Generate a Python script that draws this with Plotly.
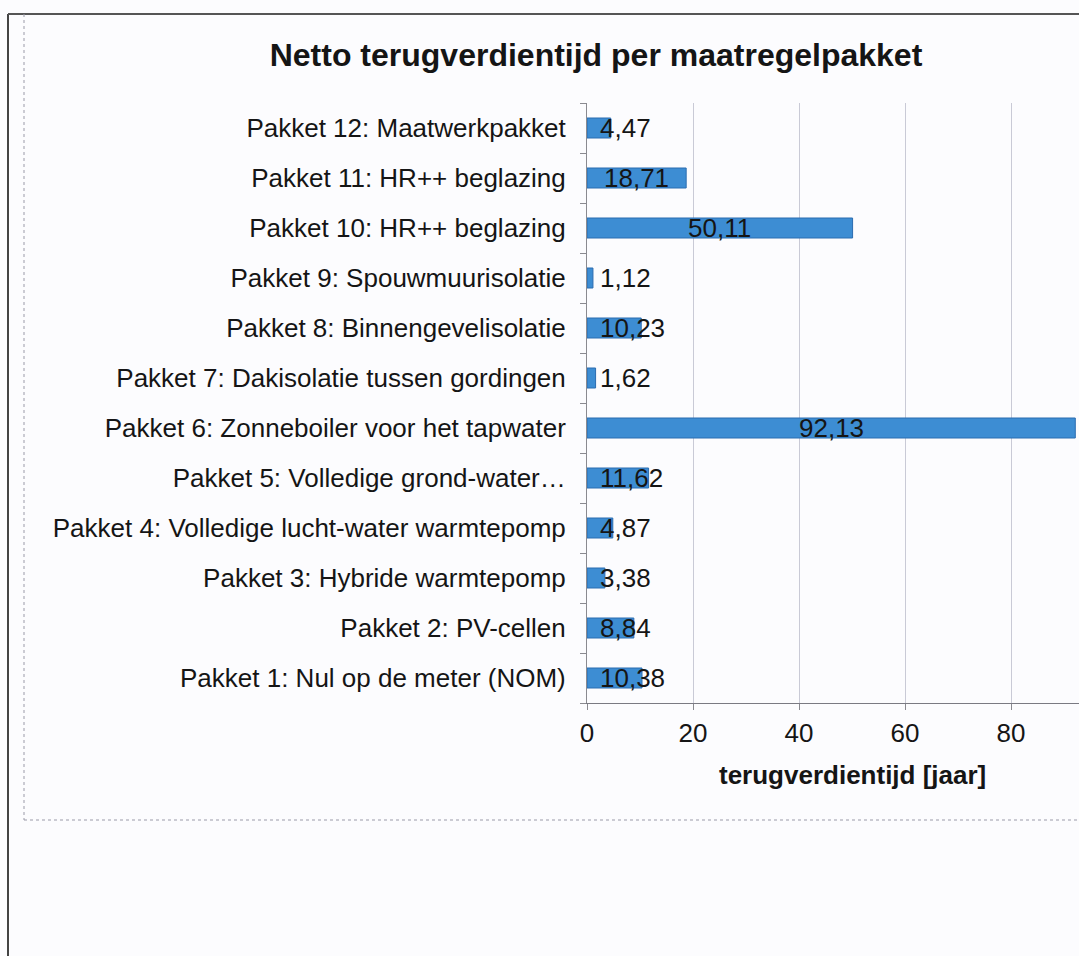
import plotly.graph_objects as go

# ---- data (bottom to top) ----
categories = [
    "Pakket 1: Nul op de meter (NOM)",
    "Pakket 2: PV-cellen",
    "Pakket 3: Hybride warmtepomp",
    "Pakket 4: Volledige lucht-water warmtepomp",
    "Pakket 5: Volledige grond-water…",
    "Pakket 6: Zonneboiler voor het tapwater",
    "Pakket 7: Dakisolatie tussen gordingen",
    "Pakket 8: Binnengevelisolatie",
    "Pakket 9: Spouwmuurisolatie",
    "Pakket 10: HR++ beglazing",
    "Pakket 11: HR++ beglazing",
    "Pakket 12: Maatwerkpakket",
]
values = [10.38, 8.84, 3.38, 4.87, 11.62, 92.13, 1.62, 10.23, 1.12, 50.11, 18.71, 4.47]
x_ticks = [0, 20, 40, 60, 80, 100]
title_text = "Netto terugverdientijd per maatregelpakket"
x_title = "terugverdientijd [jaar]"

# ---- layout geometry ----
W, H = 1079, 956
L, R, T, B = 587, 0, 103, 253
PW, PH = W - L - R, H - T - B
PX_PER_UNIT = 5.3
x_max = PW / PX_PER_UNIT
FONT = "Liberation Sans, Arial, sans-serif"
FS = 26


def px_x(px):
    return (px - L) / PW


def px_y(py):
    return (H - B - py) / PH


def fmt(v):
    return f"{v:.2f}".replace(".", ",")


def text_width_px(s, size):
    w = 0.0
    for ch in s:
        w += 0.278 if ch in ",." else 0.556
    return w * size


fig = go.Figure()
fig.add_trace(go.Bar(
    y=categories, x=values, orientation="h",
    width=0.4,
    marker=dict(color="#3d8dd3", line=dict(color="#2b6cb0", width=1)),
    hoverinfo="skip",
))

annotations = []
min_left = 2.1  # data units from axis where short-bar labels start
for c, v in zip(categories, values):
    s = fmt(v)
    half_w = text_width_px(s, FS) / 2 / PX_PER_UNIT
    if v / 2 - half_w < min_left:
        annotations.append(dict(x=min_left, y=c, xref="x", yref="y", text=s,
                                showarrow=False, xanchor="left", yanchor="middle",
                                font=dict(family=FONT, size=FS, color="#151515")))
    else:
        annotations.append(dict(x=v / 2, y=c, xref="x", yref="y", text=s,
                                showarrow=False, xanchor="center", yanchor="middle",
                                font=dict(family=FONT, size=FS, color="#151515")))

# x-axis title centred on the full (0-100) axis
annotations.append(dict(x=x_ticks[-1] / 2, y=px_y(775), xref="x", yref="paper",
                        text=f"<b>{x_title}</b>", showarrow=False,
                        xanchor="center", yanchor="middle",
                        font=dict(family=FONT, size=FS, color="#151515")))

shapes = [
    # outer page frame (left + top)
    dict(type="line", xref="paper", yref="paper", x0=px_x(8), x1=px_x(8),
         y0=px_y(14), y1=px_y(H + 5), line=dict(color="#444", width=2)),
    dict(type="line", xref="paper", yref="paper", x0=px_x(8), x1=px_x(W + 5),
         y0=px_y(14), y1=px_y(14), line=dict(color="#555", width=2)),
    # chart area frame (dotted)
    dict(type="line", xref="paper", yref="paper", x0=px_x(24), x1=px_x(24),
         y0=px_y(14), y1=px_y(820), line=dict(color="#9a9aa8", width=1, dash="dot")),
    dict(type="line", xref="paper", yref="paper", x0=px_x(24), x1=px_x(W + 5),
         y0=px_y(820), y1=px_y(820), line=dict(color="#9a9aa8", width=1, dash="dot")),
]

fig.update_layout(
    width=W, height=H,
    margin=dict(l=L, r=R, t=T, b=B, pad=0),
    paper_bgcolor="#fcfcfe", plot_bgcolor="#fcfcfe",
    showlegend=False,
    title=dict(text=f"<b>{title_text}</b>", xref="container", yref="container",
               x=596 / W, y=1 - 55 / H, xanchor="center", yanchor="middle",
               font=dict(family=FONT, size=32, color="#151515")),
    xaxis=dict(range=[0, x_max], tickvals=x_ticks, ticktext=[str(t) for t in x_ticks],
               showgrid=True, gridcolor="#c9cad6", gridwidth=1,
               zeroline=False, showline=True, linecolor="#7a7a82", linewidth=1,
               ticks="outside", ticklen=6, tickcolor="#8a8a90",
               ticklabelstandoff=1,
               tickfont=dict(family=FONT, size=FS, color="#151515"), fixedrange=True),
    yaxis=dict(type="category", categoryorder="array", categoryarray=categories,
               showgrid=False, zeroline=False, showline=True, linecolor="#8a8a90",
               linewidth=1, ticks="outside", ticklen=6, tickcolor="#8a8a90",
               tickson="boundaries", ticklabelstandoff=15,
               tickfont=dict(family=FONT, size=FS, color="#151515"), fixedrange=True),
    annotations=annotations,
    shapes=shapes,
)

fig.write_html("out.html", config={"displayModeBar": False},
               post_script="document.body.style.margin='0';document.body.style.background='#fcfcfe';")
